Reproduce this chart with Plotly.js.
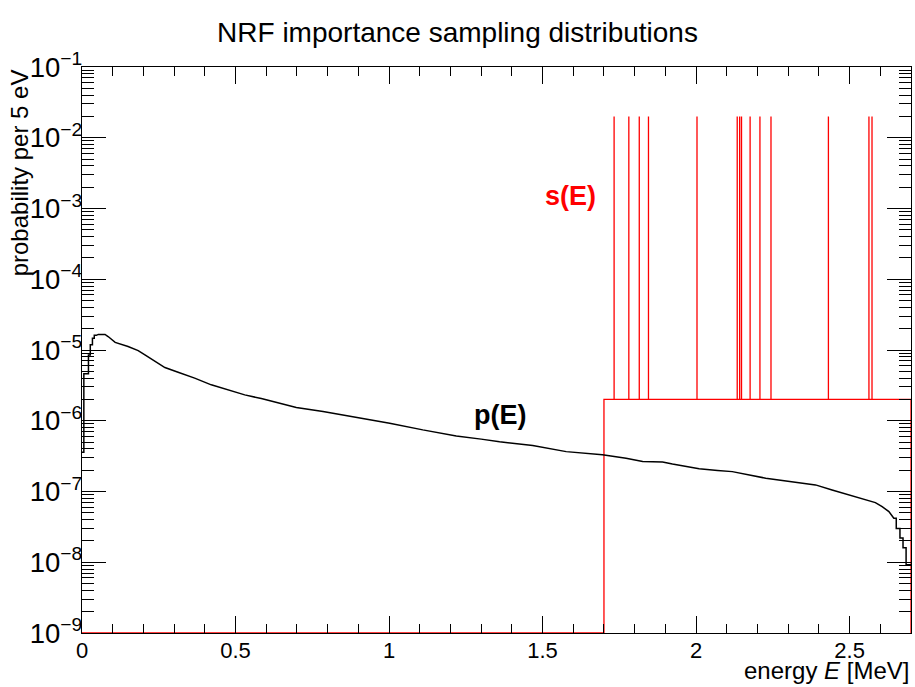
<!DOCTYPE html>
<html>
<head>
<meta charset="utf-8">
<script src="https://cdn.plot.ly/plotly-3.0.1.min.js"></script>
<style>html,body{margin:0;padding:0;background:#fff;}#chart{width:915px;height:687px;}</style>
</head>
<body>
<div id="chart"></div>
<script>
const pEnergy = [0.000, 0.006, 0.006, 0.021, 0.021, 0.027, 0.027, 0.034, 0.034, 0.040, 0.040, 0.047,
  0.053, 0.075, 0.085, 0.108, 0.150, 0.183, 0.205, 0.248, 0.270, 0.313, 0.367, 0.421, 0.476,
  0.530, 0.584, 0.638, 0.698, 0.785, 0.895, 1.002, 1.110, 1.219, 1.300, 1.360, 1.468, 1.577,
  1.695, 1.772, 1.826, 1.891, 1.923, 1.967, 2.010, 2.070, 2.118, 2.227, 2.335, 2.389, 2.443,
  2.498, 2.552, 2.584, 2.606, 2.628, 2.644, 2.652, 2.652, 2.664, 2.664, 2.674, 2.674, 2.684,
  2.684, 2.700];
const pValue = [3.6e-7, 3.6e-7, 4.6e-6, 4.6e-6, 8.5e-6, 8.5e-6, 1.19e-5, 1.19e-5, 1.47e-5, 1.47e-5, 1.61e-5, 1.61e-5,
  1.66e-5, 1.66e-5, 1.55e-5, 1.28e-5, 1.12e-5, 9.8e-6, 8.5e-6, 6.5e-6, 5.65e-6, 4.86e-6, 4.01e-6, 3.22e-6, 2.74e-6,
  2.32e-6, 2.06e-6, 1.81e-6, 1.54e-6, 1.35e-6, 1.12e-6, 9.25e-7, 7.43e-7, 6.11e-7, 5.5e-7, 5.03e-7, 4.46e-7, 3.66e-7,
  3.30e-7, 2.96e-7, 2.65e-7, 2.62e-7, 2.45e-7, 2.25e-7, 2.09e-7, 1.98e-7, 1.91e-7, 1.54e-7, 1.34e-7, 1.24e-7, 1.05e-7,
  8.96e-8, 7.78e-8, 6.97e-8, 6.11e-8, 5.20e-8, 4.2e-8, 4.2e-8, 3.0e-8, 3.0e-8, 2.2e-8, 2.2e-8, 1.6e-8, 1.6e-8,
  9.2e-9, 9.2e-9];

// s(E): flat plateau plus NRF resonance spikes
const sStart = 1.7;
const sEnd = 2.7;
const sPlateau = 2e-6;
const sPeak = 0.02;
const sFloor = 1e-9;
const sLines = [1.733, 1.781, 1.815, 1.845, 2.003, 2.134, 2.142, 2.148, 2.176, 2.208, 2.244, 2.431, 2.563, 2.573];

// log10 of the y range, and the x range
const yLogRange = [-9, -1];
const xRange = [0, 2.7];

// build the s(E) step path from the arrays
const sx = [0, sStart, sStart, sStart];
const sy = [sFloor, sFloor, sFloor, sPlateau];
sLines.forEach(e => { sx.push(e, e, e); sy.push(sPlateau, sPeak, sPlateau); });
sx.push(sEnd, sEnd);
sy.push(sPlateau, sFloor);

const traces = [
  {x: sx, y: sy, type: 'scatter', mode: 'lines', line: {color: '#ff0000', width: 1.3}, hoverinfo: 'skip', cliponaxis: true},
  {x: pEnergy, y: pValue, type: 'scatter', mode: 'lines', line: {color: '#000000', width: 1.5, shape: 'linear'}, hoverinfo: 'skip'}
];

const fontFam = 'Liberation Sans, Arial, Helvetica, sans-serif';
const layout = {
  width: 915, height: 687,
  margin: {l: 82, r: 4, t: 67, b: 54},
  paper_bgcolor: '#ffffff', plot_bgcolor: '#ffffff',
  showlegend: false,
  font: {family: fontFam, color: '#000'},
  title: {text: 'NRF importance sampling distributions', font: {size: 28, family: fontFam, color: '#000'},
          xref: 'container', x: 0.5, xanchor: 'center', yref: 'container', y: 0.953, yanchor: 'middle'},
  xaxis: {
    range: xRange, tick0: 0, dtick: 0.5, ticks: 'inside', ticklen: 17, tickwidth: 1, tickcolor: '#000',
    minor: {dtick: 0.1, ticks: 'inside', ticklen: 9, tickwidth: 1, tickcolor: '#000'},
    showline: true, linecolor: '#000', linewidth: 1.3, mirror: 'allticks', showgrid: false, zeroline: false,
    tickfont: {size: 22, family: fontFam, color: '#000'}, ticklabelstandoff: -3
  },
  yaxis: {
    type: 'log', range: yLogRange, tick0: 0, dtick: 1, exponentformat: 'power', showexponent: 'all',
    ticks: 'inside', ticklen: 24, tickwidth: 1, tickcolor: '#000',
    minor: {dtick: 'D1', ticks: 'inside', ticklen: 12, tickwidth: 1, tickcolor: '#000'},
    showline: true, linecolor: '#000', linewidth: 1.3, mirror: 'allticks', showgrid: false, zeroline: false,
    tickfont: {size: 22, family: fontFam, color: '#000'}, ticklabelstandoff: -6
  },
  annotations: [
    {text: 'energy <i>E</i> [MeV]', xref: 'paper', yref: 'paper', x: 1, y: -0.066, xanchor: 'right', yanchor: 'middle',
     showarrow: false, font: {size: 24, family: fontFam, color: '#000'}},
    {text: 'probability per 5 eV', xref: 'paper', yref: 'paper', x: -0.075, y: 1.0, xanchor: 'center', yanchor: 'top',
     textangle: -90, showarrow: false, font: {size: 24, family: fontFam, color: '#000'}},
    {text: '<b>s(E)</b>', xref: 'x', yref: 'y', x: 1.591, y: -2.819, showarrow: false,
     font: {size: 27, family: fontFam, color: '#ff0000'}},
    {text: '<b>p(E)</b>', xref: 'x', yref: 'y', x: 1.363, y: -5.916, showarrow: false,
     font: {size: 27, family: fontFam, color: '#000'}}
  ]
};

Plotly.newPlot('chart', traces, layout, {displayModeBar: false, staticPlot: true});
</script>
</body>
</html>
